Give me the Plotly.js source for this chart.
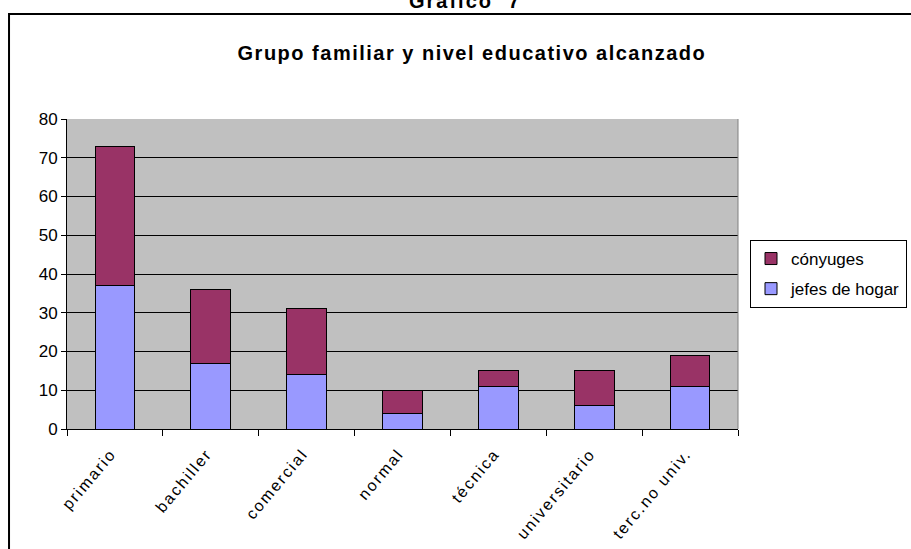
<!DOCTYPE html>
<html>
<head>
<meta charset="utf-8">
<script src="https://cdn.plot.ly/plotly-3.0.1.min.js"></script>
<style>
html,body{margin:0;padding:0;background:#fff;}
#chart{width:911px;height:549px;}
#chart .gtitle{letter-spacing:1.5px;}
#chart .annotation-text{letter-spacing:2px;}
#chart .xtick text{letter-spacing:2px;}
</style>
</head>
<body>
<div id="chart"></div>
<script>
const categories = ["primario", "bachiller", "comercial", "normal", "técnica", "universitario", "terc.no univ."];
const jefesDeHogar = [37, 17, 14, 4, 11, 6, 11];
const conyuges = [36, 19, 17, 6, 4, 9, 8];
const yTicks = [0, 10, 20, 30, 40, 50, 60, 70, 80];

const FONT = "Liberation Sans, Arial, Helvetica, sans-serif";

const traces = [
  {
    type: "bar", name: "jefes de hogar", x: categories, y: jefesDeHogar,
    legendrank: 2, legendgroup: "jefes",
    marker: {color: "#9999FF", line: {color: "#000000", width: 1}}
  },
  {
    type: "bar", name: "cónyuges", x: categories, y: conyuges,
    legendrank: 1, legendgroup: "conyuges",
    marker: {color: "#993366", line: {color: "#000000", width: 1}}
  }
];

const layout = {
  width: 911, height: 549,
  margin: {l: 67, r: 173, t: 119, b: 120, pad: 0, autoexpand: false},
  paper_bgcolor: "#FFFFFF",
  plot_bgcolor: "#C0C0C0",
  barmode: "stack",
  bargap: 0.585,
  font: {family: FONT, color: "#000000", size: 16},
  title: {
    text: "<b>Grupo familiar y nivel educativo alcanzado</b>",
    font: {family: FONT, size: 20, color: "#000000"},
    x: 0.518, xref: "container", xanchor: "center",
    y: 1 - 53 / 549, yref: "container", yanchor: "middle"
  },
  xaxis: {
    type: "category",
    automargin: false,
    showgrid: false,
    showline: true, linecolor: "#000000", linewidth: 1,
    ticks: "outside", ticklen: 6, tickcolor: "#000000", tickson: "boundaries",
    tickangle: -50,
    ticklabelstandoff: 8,
    ticklabelshift: -4,
    tickfont: {family: FONT, size: 16, color: "#000000"},
    fixedrange: true
  },
  yaxis: {
    range: [0, 80],
    automargin: false,
    tickvals: yTicks,
    showgrid: true, gridcolor: "#000000", gridwidth: 1,
    showline: true, linecolor: "#000000", linewidth: 1,
    ticks: "outside", ticklen: 5, tickcolor: "#000000",
    tickfont: {family: FONT, size: 17, color: "#000000"},
    zeroline: false,
    fixedrange: true
  },
  legend: {
    x: 1.0179, y: 0.6097, xanchor: "left", yanchor: "top",
    bgcolor: "#FFFFFF", bordercolor: "#000000", borderwidth: 1,
    font: {family: FONT, size: 17, color: "#000000"},
    traceorder: "grouped",
    tracegroupgap: 5,
    itemwidth: 30
  },
  annotations: [
    {
      text: "<b>Gráfico  7</b>",
      xref: "paper", yref: "paper",
      x: 0.593, y: 1.338, xanchor: "center", yanchor: "bottom",
      showarrow: false,
      font: {family: FONT, size: 20, color: "#000000"}
    }
  ],
  shapes: [
    {
      type: "rect", xref: "paper", yref: "paper",
      x0: -0.0864, x1: 1.35, y0: -0.45, y1: 1.3387,
      line: {color: "#000000", width: 2}, fillcolor: "rgba(0,0,0,0)"
    },
    {
      type: "line", xref: "paper", yref: "paper",
      x0: 1, x1: 1, y0: 0, y1: 1,
      line: {color: "#808080", width: 1}
    }
  ]
};

Plotly.newPlot("chart", traces, layout, {displayModeBar: false, staticPlot: true});
</script>
</body>
</html>
